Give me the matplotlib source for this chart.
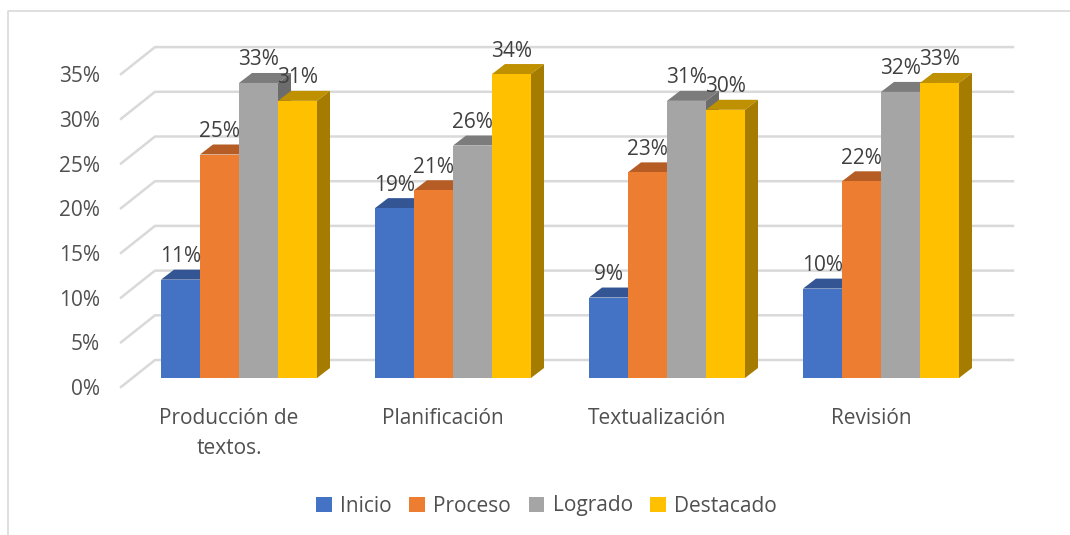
import numpy as np
import matplotlib.pyplot as plt
from matplotlib.lines import Line2D
from matplotlib.patches import Patch, Polygon

plt.rcParams['font.family'] = ['Open Sans', 'DejaVu Sans']

categories = ['Producción de\ntextos.', 'Planificación', 'Textualización', 'Revisión']
series_names = ['Inicio', 'Proceso', 'Logrado', 'Destacado']
inicio = [11, 19, 9, 10]
proceso = [25, 21, 23, 22]
logrado = [33, 26, 31, 32]
destacado = [31, 34, 30, 33]
y_ticks = [0, 5, 10, 15, 20, 25, 30, 35]

front_colors = ['#4472C4', '#ED7D31', '#A5A5A5', '#FFC000']
top_colors = ['#335593', '#B55D24', '#7C7C7C', '#BF9000']
side_colors = ['#2C4A80', '#9E5120', '#6C6C6C', '#A67C00']
grid_color = '#D9D9D9'
text_color = '#505050'
label_color = '#404040'

W, H = 1070, 535
# pixel scale of the chart's front plane
px_x = 214.0
px_y = 8.94

fig = plt.figure(figsize=(W / 100, H / 100), dpi=100)
ax_left, ax_right, ax_bottom, ax_top = 121, 1013, 387, 47
ax = fig.add_axes([ax_left / W, 1 - ax_bottom / H, (ax_right - ax_left) / W, (ax_bottom - ax_top) / H])
ax.set_xlim((ax_left - 229) / px_x, (ax_right - 229) / px_x)
ax.set_ylim(0, (ax_bottom - ax_top) / px_y)
for s in ax.spines.values():
    s.set_visible(False)
ax.patch.set_visible(False)

# fake 3d: walls and floor
wall_dx = 34 / px_x
wall_dy = 27 / px_y
x_lo = ax.get_xlim()[0]
x_hi = ax.get_xlim()[1]
for t in y_ticks:
    ax.plot([x_lo, x_lo + wall_dx, x_hi], [t, t + wall_dy, t + wall_dy], color=grid_color, lw=1.8, zorder=1,
            solid_joinstyle='round', clip_on=False)

bar_w = 39 / px_x
depth_x = 13 / px_x
depth_y = 10 / px_y
floor = 9 / px_y
group_shift = 10 / px_x
x = np.arange(len(categories))

for j, vals in enumerate([inicio, proceso, logrado, destacado]):
    xs = x + group_shift + (j - 1.5) * bar_w
    ax.bar(xs, vals, bar_w, bottom=floor, color=front_colors[j], zorder=3.5 + j)
    for xc, v in zip(xs, vals):
        x0 = xc - bar_w / 2
        x1 = xc + bar_w / 2
        y1 = v + floor
        ax.add_patch(Polygon([(x0, y1), (x1, y1), (x1 + depth_x, y1 + depth_y), (x0 + depth_x, y1 + depth_y)],
                             facecolor=top_colors[j], edgecolor='none', zorder=3 + j))
        ax.add_patch(Polygon([(x1, floor), (x1 + depth_x, floor + depth_y), (x1 + depth_x, y1 + depth_y), (x1, y1)],
                             facecolor=side_colors[j], edgecolor='none', zorder=3 + j))
        ax.text(xc, y1 + 23 / px_y, f'{v}%', ha='center', va='center', fontsize=15, color=label_color, zorder=20)

ax.set_yticks(y_ticks)
ax.set_yticklabels([f'{t}%' for t in y_ticks])
ax.set_xticks(x)
ax.set_xticklabels(categories, linespacing=1.6)
ax.tick_params(axis='y', length=0, pad=15, labelsize=15, labelcolor=text_color)
ax.tick_params(axis='x', length=0, pad=15, labelsize=15, labelcolor=text_color)

handles = [Patch(facecolor=c, edgecolor='none') for c in front_colors]
fig.legend(handles, series_names, loc='center', bbox_to_anchor=(546.5 / W, 1 - 506 / H), ncol=4, frameon=False,
           fontsize=15, labelcolor=text_color, handlelength=0.75, handleheight=0.75, handletextpad=0.4,
           columnspacing=0.85)

# outer frame, cropped at right and bottom
fig.add_artist(Line2D([8 / W, 8 / W, 1], [0, 1 - 11 / H, 1 - 11 / H], color=grid_color, lw=1.2))

fig.savefig('out.png', dpi=100)
